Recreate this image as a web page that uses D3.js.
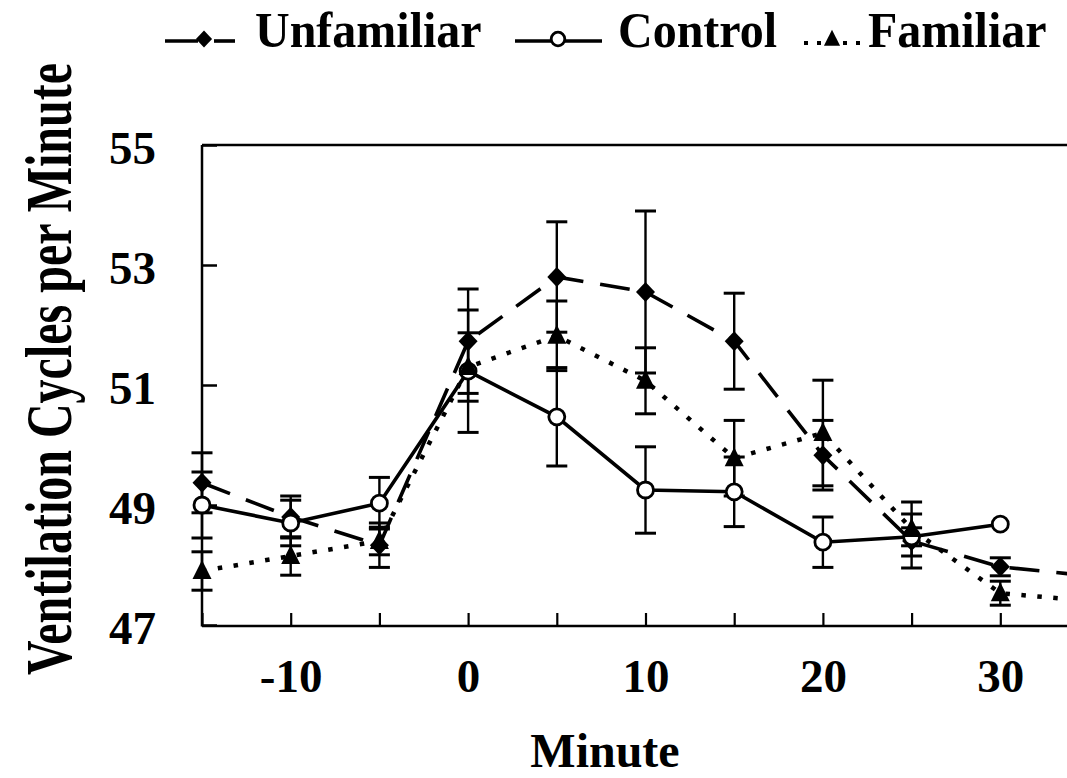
<!DOCTYPE html>
<html>
<head>
<meta charset="utf-8">
<script src="https://cdn.jsdelivr.net/npm/d3@7/dist/d3.min.js"></script>
<style>
  html, body { margin: 0; padding: 0; background: #fff; }
  svg { display: block; }
  text { font-family: "Liberation Serif", "Times New Roman", serif; font-weight: bold; fill: #000; }
</style>
</head>
<body>
<svg id="chart" width="1067" height="778"></svg>
<script>
// ---- Data ----
const minutes      = [-15, -10, -5, 0, 5, 10, 15, 20, 25, 30, 35];
const unfamiliar    = [49.37, 48.80, 48.33, 51.73, 52.80, 52.55, 51.73, 49.83, 48.40, 47.97, 47.82];
const unfamiliarErr = [0.50, 0.35, 0.37, 0.87, 0.92, 1.35, 0.80, 0.58, 0.45, 0.15, null];
const control       = [49.00, 48.70, 49.03, 51.23, 50.47, 49.25, 49.22, 48.38, 48.47, 48.68, null];
const controlErr    = [0.55, 0.38, 0.43, 1.02, 0.82, 0.72, 0.58, 0.42, 0.15, 0, null];
const familiar      = [47.90, 48.15, 48.40, 51.30, 51.82, 51.07, 49.78, 50.20, 48.60, 47.53, 47.40];
const familiarErr   = [0.32, 0.32, 0.23, 0.57, 0.58, 0.55, 0.63, 0.88, 0.45, 0.20, null];
const yTicks = [47, 49, 51, 53, 55];
const xTicks = [-15, -10, -5, 0, 5, 10, 15, 20, 25, 30, 35];
const xLabels = ["", "-10", "", "0", "", "10", "", "20", "", "30", ""];
const seriesNames = ["Unfamiliar", "Control", "Familiar"];

// ---- Layout ----
const svg = d3.select("#chart");
const plotLeft = 202, plotTop = 145, plotBottom = 625;
const x = d3.scaleLinear().domain([-15, 35]).range([plotLeft, 1089]);
const y = d3.scaleLinear().domain([47, 55]).range([plotBottom, plotTop]);

// frame
const g = svg.append("g");
g.append("line").attr("x1", plotLeft).attr("x2", 1067).attr("y1", plotTop).attr("y2", plotTop)
  .attr("stroke", "#000").attr("stroke-width", 2.5);

// axes
const yAxis = d3.axisLeft(y).tickValues(yTicks).tickSize(-15).tickPadding(46).tickFormat(d3.format("d"));
const yG = g.append("g").attr("transform", `translate(${plotLeft},0)`).call(yAxis);
yG.select(".domain").attr("stroke-width", 2.5).attr("d", `M0,${plotTop}V${plotBottom + 1.5}`);
yG.selectAll(".tick line").attr("stroke-width", 2.5);
yG.selectAll(".tick text").attr("font-size", 47).attr("font-family", "Liberation Serif").attr("font-weight", "bold")
  .attr("dy", "0.4em");

const xAxis = d3.axisBottom(x).tickValues(xTicks).tickSize(-13).tickPadding(33)
  .tickFormat((d, i) => xLabels[i]);
const xG = g.append("g").attr("transform", `translate(0,${plotBottom + 1})`).call(xAxis);
xG.select(".domain").attr("stroke-width", 2.5).attr("d", `M${plotLeft},0H1067`);
xG.selectAll(".tick line").attr("stroke-width", 2.2);
xG.selectAll(".tick text").attr("font-size", 47).attr("font-family", "Liberation Serif").attr("font-weight", "bold");

// axis titles
svg.append("text").attr("x", 605).attr("y", 767).attr("text-anchor", "middle")
  .attr("font-size", 48).text("Minute");
svg.append("text").attr("transform", "translate(71,369) rotate(-90) scale(1,1.35)").attr("text-anchor", "middle")
  .attr("font-size", 48).text("Ventilation Cycles per Minute");

// ---- Series ----
const series = [
  { name: seriesNames[0], vals: unfamiliar, err: unfamiliarErr, dash: "30,17", marker: "diamond" },
  { name: seriesNames[1], vals: control, err: controlErr, dash: null, marker: "circle" },
  { name: seriesNames[2], vals: familiar, err: familiarErr, dash: "4.5,11.5", marker: "triangle" }
];

const plot = svg.append("g");

// error bars
series.forEach(s => {
  const pts = minutes.map((m, i) => ({ m, v: s.vals[i], e: s.err[i] }))
    .filter(p => p.v != null && p.e != null && p.e > 0);
  const eb = plot.append("g").attr("stroke", "#000").attr("stroke-width", 2.4);
  pts.forEach(p => {
    const cx = x(p.m), y1 = y(p.v + p.e), y2 = y(p.v - p.e);
    eb.append("line").attr("x1", cx).attr("x2", cx).attr("y1", y1).attr("y2", y2);
    eb.append("line").attr("x1", cx - 10.5).attr("x2", cx + 10.5).attr("y1", y1).attr("y2", y1).attr("stroke-width", 3);
    eb.append("line").attr("x1", cx - 10.5).attr("x2", cx + 10.5).attr("y1", y2).attr("y2", y2).attr("stroke-width", 3);
  });
});

// lines
series.forEach(s => {
  const pts = minutes.map((m, i) => ({ m, v: s.vals[i] })).filter(p => p.v != null);
  const line = d3.line().x(d => x(d.m)).y(d => y(d.v));
  const p = plot.append("path").datum(pts).attr("d", line)
    .attr("fill", "none").attr("stroke", "#000").attr("stroke-width", s.marker === "triangle" ? 4.5 : 3.6);
  if (s.dash) p.attr("stroke-dasharray", s.dash);
});

// markers
function drawMarker(sel, type, cx, cy, k) {
  k = k || 1;
  if (type === "diamond") {
    sel.append("path").attr("d", `M${cx},${cy - 10 * k}L${cx + 9.5 * k},${cy}L${cx},${cy + 10 * k}L${cx - 9.5 * k},${cy}Z`).attr("fill", "#000");
  } else if (type === "circle") {
    sel.append("circle").attr("cx", cx).attr("cy", cy).attr("r", 8 * k)
      .attr("fill", "#fff").attr("stroke", "#000").attr("stroke-width", 2.8);
  } else {
    sel.append("path").attr("d", `M${cx},${cy - 11 * k}L${cx + 9.5 * k},${cy + 8 * k}L${cx - 9.5 * k},${cy + 8 * k}Z`).attr("fill", "#000");
  }
}
series.forEach(s => {
  const mg = plot.append("g");
  minutes.forEach((m, i) => {
    if (s.vals[i] != null) drawMarker(mg, s.marker, x(m), y(s.vals[i]));
  });
});

// ---- Legend ----
const legend = svg.append("g");
const legendItems = [
  { s: series[0], x0: 165, x1: 245, mx: 204, tx: 255 },
  { s: series[1], x0: 515, x1: 602, mx: 558, tx: 618 },
  { s: series[2], x0: 804, x1: 860, mx: 832, tx: 868 }
];
legendItems.forEach(it => {
  const ly = 39;
  if (it.s.marker === "diamond") {
    legend.append("line").attr("x1", it.x0).attr("x2", it.mx - 6).attr("y1", ly + 2).attr("y2", ly + 2).attr("stroke", "#000").attr("stroke-width", 3.6);
    legend.append("line").attr("x1", it.mx + 10).attr("x2", it.x1 - 10).attr("y1", ly + 2).attr("y2", ly + 2).attr("stroke", "#000").attr("stroke-width", 3.6);
  } else if (it.s.marker === "circle") {
    legend.append("line").attr("x1", it.x0).attr("x2", it.x1).attr("y1", ly + 2).attr("y2", ly + 2).attr("stroke", "#000").attr("stroke-width", 3.6);
  } else {
    legend.append("line").attr("x1", it.x0).attr("x2", it.x1).attr("y1", ly + 4).attr("y2", ly + 4).attr("stroke", "#000").attr("stroke-width", 4).attr("stroke-dasharray", "4,9");
  }
  drawMarker(legend, it.s.marker, it.mx, ly, 0.85);
  legend.append("text").attr("transform", `translate(${it.tx},47) scale(1,1.05)`).attr("font-size", 48).text(it.s.name);
});
</script>
</body>
</html>
